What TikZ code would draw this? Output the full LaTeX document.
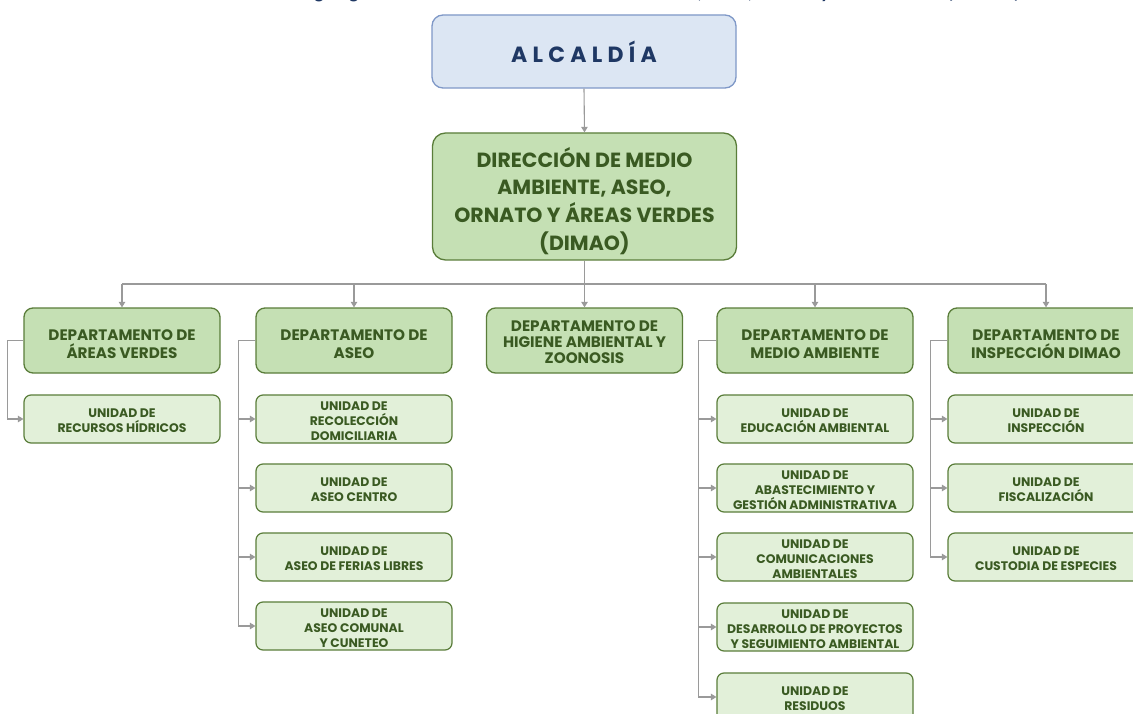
\documentclass[tikz,border=0pt]{standalone}
\usepackage{fontspec}
\setmainfont{Poppins}
\newfontfamily\titlefont{Carlito}
\usetikzlibrary{arrows.meta}
\definecolor{navy}{HTML}{1F3864}
\definecolor{blueborder}{HTML}{7F98C7}
\definecolor{bluefill}{HTML}{DCE6F3}
\definecolor{deptfill}{HTML}{C5E0B4}
\definecolor{unitfill}{HTML}{E2F0D9}
\definecolor{greenborder}{HTML}{5A7D3A}
\definecolor{greentext}{HTML}{3A5A22}
\definecolor{conngray}{HTML}{9A9A9A}
\tikzset{
  topbox/.style={draw=blueborder, fill=bluefill, rounded corners=11pt, line width=1.3pt,
    minimum width=304pt, minimum height=73pt, inner sep=0pt, text=navy,
    font=\fontsize{22}{26}\selectfont\bfseries\addfontfeatures{LetterSpace=24}},
  dirbox/.style={draw=greenborder, fill=deptfill, rounded corners=13pt, line width=1.3pt,
    minimum width=304pt, minimum height=127pt, inner sep=0pt},
  dirtxt/.style={inner sep=0pt, align=center, text=greentext, yshift=-4.5pt,
    font=\fontsize{20.5}{27.8}\selectfont\bfseries},
  deptbox/.style={draw=greenborder, fill=deptfill, rounded corners=9pt, line width=1.3pt,
    minimum width=196pt, minimum height=65pt, inner sep=0pt},
  depttxt/.style={inner sep=0pt, align=center, text=greentext, yshift=-3.5pt,
    font=\fontsize{15.2}{18}\selectfont\bfseries},
  dept3txt/.style={inner sep=0pt, align=center, text=greentext, yshift=-1.5pt,
    font=\fontsize{15.2}{16.2}\selectfont\bfseries},
  unitbox/.style={draw=greenborder, fill=unitfill, rounded corners=7pt, line width=1.2pt,
    minimum width=196pt, minimum height=48pt, inner sep=0pt},
  unittxt/.style={inner sep=0pt, align=center, text=greentext, yshift=-2pt,
    font=\fontsize{12.4}{15}\selectfont\bfseries},
  conn/.style={draw=conngray, line width=1.1pt, -{Triangle[length=5.5pt,width=6.5pt]}},
  bus/.style={draw=conngray, line width=1.1pt},
}
\newcommand\obox[5]{\node[#1box] (#2) at (#3) {}; \node[#4] (#2-t) at (#2.center) {#5};}
\begin{document}
\begin{tikzpicture}[x=1pt,y=-1pt]
\useasboundingbox (0,0) rectangle (1133,714);
\clip (0,0) rectangle (1133,714);
\fill[white] (0,0) rectangle (1133,714);
\node[anchor=base, text=navy, font=\titlefont\fontsize{20}{24}\selectfont\bfseries] (title) at (657,-1.5)
  {Organigrama de la Dirección de Medio Ambiente, Aseo, Ornato y Áreas Verdes (DIMAO)};
\node[topbox] (alc) at (584,51.5) {ALCALDÍA};
\obox{dir}{dir}{584.5,196.5}{dirtxt}{DIRECCIÓN DE MEDIO\\AMBIENTE, ASEO,\\ORNATO Y ÁREAS VERDES\\(DIMAO)}
% departments
\obox{dept}{d1}{122,340.5}{depttxt}{DEPARTAMENTO DE\\ÁREAS VERDES}
\obox{dept}{d2}{354,340.5}{depttxt}{DEPARTAMENTO DE\\ASEO}
\obox{dept}{d3}{584.5,340.5}{dept3txt}{DEPARTAMENTO DE\\HIGIENE AMBIENTAL Y\\ZOONOSIS}
\obox{dept}{d4}{815,340.5}{depttxt}{DEPARTAMENTO DE\\MEDIO AMBIENTE}
\obox{dept}{d5}{1046,340.5}{depttxt}{DEPARTAMENTO DE\\INSPECCIÓN DIMAO}
% units
\obox{unit}{u11}{122,419}{unittxt}{UNIDAD DE\\RECURSOS HÍDRICOS}
\obox{unit}{u21}{354,419}{unittxt}{UNIDAD DE\\RECOLECCIÓN\\DOMICILIARIA}
\obox{unit}{u22}{354,488}{unittxt}{UNIDAD DE\\ASEO CENTRO}
\obox{unit}{u23}{354,557}{unittxt}{UNIDAD DE\\ASEO DE FERIAS LIBRES}
\obox{unit}{u24}{354,626}{unittxt}{UNIDAD DE\\ASEO COMUNAL\\Y CUNETEO}
\obox{unit}{u41}{815,419}{unittxt}{UNIDAD DE\\EDUCACIÓN AMBIENTAL}
\obox{unit}{u42}{815,488}{unittxt}{UNIDAD DE\\ABASTECIMIENTO Y\\GESTIÓN ADMINISTRATIVA}
\obox{unit}{u43}{815,557}{unittxt}{UNIDAD DE\\COMUNICACIONES\\AMBIENTALES}
\obox{unit}{u44}{815,627}{unittxt}{UNIDAD DE\\DESARROLLO DE PROYECTOS\\Y SEGUIMIENTO AMBIENTAL}
\obox{unit}{u45}{815,697}{unittxt}{UNIDAD DE\\RESIDUOS}
\obox{unit}{u51}{1046,419}{unittxt}{UNIDAD DE\\INSPECCIÓN}
\obox{unit}{u52}{1046,488}{unittxt}{UNIDAD DE\\FISCALIZACIÓN}
\obox{unit}{u53}{1046,557}{unittxt}{UNIDAD DE\\CUSTODIA DE ESPECIES}
% connectors
\draw[conn] (alc.south) -- (dir.north);
\coordinate (b) at (584.5,284);
\draw[bus] (d1.north |- b) -- (d5.north |- b);
\draw[bus] (dir.south) -- (b);
\foreach \d in {d1,d2,d3,d4,d5} \draw[conn] (\d.north |- b) -- (\d.north);
\draw[conn] (d1.west) -- ++(-16,0) |- (u11.west);
\foreach \u in {u21,u22,u23,u24} \draw[conn] (d2.west) -- ++(-17,0) |- (\u.west);
\foreach \u in {u41,u42,u43,u44,u45} \draw[conn] (d4.west) -- ++(-18,0) |- (\u.west);
\foreach \u in {u51,u52,u53} \draw[conn] (d5.west) -- ++(-17,0) |- (\u.west);
\end{tikzpicture}
\end{document}
